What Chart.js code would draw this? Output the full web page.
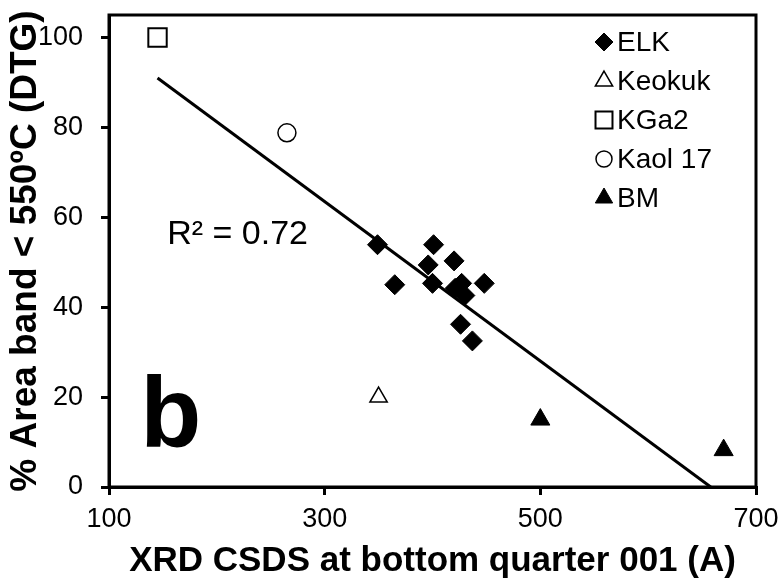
<!DOCTYPE html>
<html>
<head>
<meta charset="utf-8">
<script src="https://cdn.jsdelivr.net/npm/chart.js@4.4.1/dist/chart.umd.min.js"></script>
<style>
  html, body { margin: 0; padding: 0; background: #fff; }
  #wrap { width: 778px; height: 586px; }
</style>
</head>
<body>
<div id="wrap"><canvas id="c"></canvas></div>
<script>
// values
const elkX = [349, 401, 396, 420, 365, 400, 427, 448, 421, 430, 426, 437];
const elkY = [53.9, 53.9, 49.4, 50.3, 45.0, 45.3, 45.3, 45.3, 44.2, 42.6, 36.2, 32.5];
const keokukX = [350];
const keokukY = [20];
const kga2X = [145];
const kga2Y = [100];
const kaolX = [265];
const kaolY = [78.8];
const bmX = [500, 670];
const bmY = [15, 8.2];
const trendX = [145, 658];
const trendY = [91, 0];

const xTicks = [100, 300, 500, 700];
const yTicks = [0, 20, 40, 60, 80, 100];

const rSquared = 'R² = 0.72';
const panelLetter = 'b';

const FONT = "'Liberation Sans', Arial, Helvetica, sans-serif";

function pts(xs, ys) {
    return xs.map((x, i) => ({ x: x, y: ys[i] }));
}

// frame, annotations and the legend box in the upper right
const extras = {
    id: 'extras',
    afterDatasetsDraw(chart) {
        const { ctx, chartArea: a, scales } = chart;
        ctx.save();
        ctx.strokeStyle = '#000';
        ctx.lineWidth = 3;
        ctx.strokeRect(a.left, a.top, a.right - a.left, a.bottom - a.top);

        ctx.fillStyle = '#000';
        ctx.textBaseline = 'alphabetic';
        ctx.textAlign = 'left';
        ctx.font = '34px ' + FONT;
        ctx.fillText(rSquared, scales.x.getPixelForValue(154), scales.y.getPixelForValue(54.1));
        ctx.font = 'bold 100px ' + FONT;
        ctx.fillText(panelLetter, scales.x.getPixelForValue(129), scales.y.getPixelForValue(8.8));

        // legend
        const items = chart.data.datasets.filter(d => d.inLegend);
        let y = 42;
        items.forEach(d => {
            ctx.fillStyle = d.backgroundColor;
            ctx.strokeStyle = '#000';
            ctx.lineWidth = d.borderWidth;
            Chart.helpers.drawPoint(ctx, {
                pointStyle: d.pointStyle, radius: d.legendRadius, rotation: 0, borderWidth: d.borderWidth
            }, 604, y);
            ctx.fillStyle = '#000';
            ctx.font = '28px ' + FONT;
            ctx.textBaseline = 'middle';
            ctx.fillText(d.label, 617, y + 1);
            y += 39;
        });
        ctx.restore();
    }
};

function noEdgePad(s) {
    s.paddingTop = 0; s.paddingBottom = 0; s.paddingLeft = 0; s.paddingRight = 0;
}

new Chart(document.getElementById('c'), {
    type: 'scatter',
    data: {
        datasets: [
            {
                label: 'trend', type: 'line', data: pts(trendX, trendY),
                borderColor: '#000', borderWidth: 3, pointRadius: 0, fill: false, showLine: true
            },
            {
                label: 'ELK', data: pts(elkX, elkY), inLegend: true, legendRadius: 9,
                pointStyle: 'rectRot', pointRadius: 10, backgroundColor: '#000', borderColor: '#000', borderWidth: 1
            },
            {
                label: 'Keokuk', data: pts(keokukX, keokukY), inLegend: true, legendRadius: 10,
                pointStyle: 'triangle', pointRadius: 10, backgroundColor: '#fff', borderColor: '#000', borderWidth: 1.5
            },
            {
                label: 'KGa2', data: pts(kga2X, kga2Y), inLegend: true, legendRadius: 12,
                pointStyle: 'rect', pointRadius: 13, backgroundColor: '#fff', borderColor: '#000', borderWidth: 2
            },
            {
                label: 'Kaol 17', data: pts(kaolX, kaolY), inLegend: true, legendRadius: 8,
                pointStyle: 'circle', pointRadius: 9, backgroundColor: '#fff', borderColor: '#000', borderWidth: 1.5
            },
            {
                label: 'BM', data: pts(bmX, bmY), inLegend: true, legendRadius: 10,
                pointStyle: 'triangle', pointRadius: 11, backgroundColor: '#000', borderColor: '#000', borderWidth: 1
            }
        ]
    },
    options: {
        responsive: true,
        maintainAspectRatio: false,
        animation: false,
        layout: { padding: { top: 12, right: 22, left: 0, bottom: 0 } },
        plugins: { legend: { display: false }, tooltip: { enabled: false } },
        scales: {
            x: {
                type: 'linear', min: 100, max: 700,
                afterFit: s => { s.height = 99; noEdgePad(s); },
                afterBuildTicks: s => { s.ticks = xTicks.map(v => ({ value: v })); },
                grid: { drawOnChartArea: false, color: '#000', lineWidth: 3, tickLength: 8 },
                border: { display: true, color: '#000', width: 3 },
                ticks: { color: '#000', padding: 8, font: { family: FONT, size: 27 } },
                title: {
                    display: true, text: 'XRD CSDS at bottom quarter 001 (A)', color: '#000',
                    font: { family: FONT, size: 35, weight: 'bold', lineHeight: 1.2 }, padding: { top: 0, bottom: 4 }
                }
            },
            y: {
                type: 'linear', min: 0, max: 105,
                afterFit: s => { s.width = 109; noEdgePad(s); },
                afterBuildTicks: s => { s.ticks = yTicks.map(v => ({ value: v })); },
                grid: { drawOnChartArea: false, color: '#000', lineWidth: 3, tickLength: 8 },
                border: { display: true, color: '#000', width: 3 },
                ticks: { color: '#000', padding: 18, font: { family: FONT, size: 27 } },
                title: {
                    display: true, text: '% Area band < 550ºC (DTG)', color: '#000',
                    font: { family: FONT, size: 37, weight: 'bold', lineHeight: 1.2 }, padding: { top: 4, bottom: 0 }
                }
            }
        }
    },
    plugins: [extras]
});
</script>
</body>
</html>
